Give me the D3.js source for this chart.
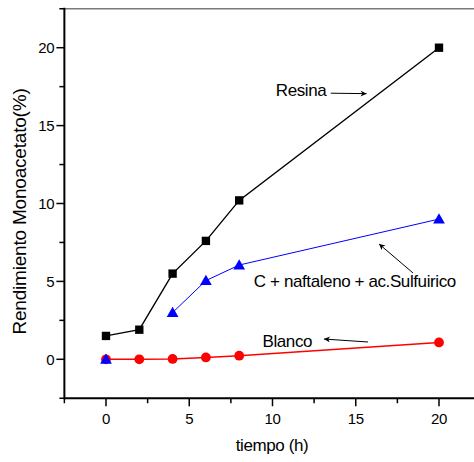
<!DOCTYPE html>
<html>
<head>
<meta charset="utf-8">
<script src="https://cdn.jsdelivr.net/npm/d3@7"></script>
<style>
  html, body { margin: 0; padding: 0; background: #fff; }
  svg { display: block; font-family: 'Liberation Sans', Arial, sans-serif; }
</style>
</head>
<body>
<svg class="canvas" width="474" height="462"></svg>
<script>
'use strict';

// Data
const tiempo = [0, 2, 4, 6, 8, 20];
const resina = [1.5, 1.9, 5.5, 7.6, 10.2, 20.0];
const naftaleno = [0, null, 3.0, 5.05, 6.05, 9.0];
const blanco = [0, 0, 0.02, 0.12, 0.23, 1.08];
const xTicks = [0, 5, 10, 15, 20];
const yTicks = [0, 5, 10, 15, 20];

// drawn in this order: red first so the blue triangle at t=0 sits on top
const series = [
  { name: 'Resina', values: resina, color: '#000000', width: 1.4, marker: 'square' },
  { name: 'Blanco', values: blanco, color: '#ff0000', width: 1.4, marker: 'circle' },
  { name: 'C + naftaleno + ac.Sulfuirico', values: naftaleno, color: '#0000ff', width: 1, marker: 'triangle' }
];

// Annotation labels, placed in data units
const notes = [
  { text: 'Resina', tx: 10.2, ty: 16.9, from: [13.5, 17.08], to: [15.65, 17.05] },
  { text: 'C + naftaleno + ac.Sulfuirico', tx: 8.88, ty: 4.66, from: [18.44, 5.54], to: [16.4, 7.4] },
  { text: 'Blanco', tx: 9.4, ty: 0.8, from: [15.74, 1.11], to: [13.09, 1.3] }
];

const svg = d3.select('.canvas');
const x = d3.scaleLinear().domain([0, 20]).range([106, 439]);
const y = d3.scaleLinear().domain([0, 20]).range([359.3, 47.7]);
const xLo = -2.5, xHi = 22.5, yLo = -2.5, yHi = 22.5;

// frame
svg.append('line')
  .attr('x1', x(xLo)).attr('x2', x(xHi))
  .attr('y1', y(yHi)).attr('y2', y(yHi))
  .attr('stroke', '#7a7a7a').attr('stroke-width', 1.5);

const minor = d3.range(-2.5, 23, 5);

// bottom axis
const gx = svg.append('g').attr('transform', `translate(0,${y(yLo)})`);
gx.append('line').attr('x1', x(xLo)).attr('x2', x(xHi)).attr('stroke', '#000').attr('stroke-width', 2);
gx.selectAll('.maj').data(xTicks).enter().append('line')
  .attr('x1', d => x(d)).attr('x2', d => x(d)).attr('y1', 0).attr('y2', 8)
  .attr('stroke', '#000').attr('stroke-width', 1.5);
gx.selectAll('.min').data(minor).enter().append('line')
  .attr('x1', d => x(d)).attr('x2', d => x(d)).attr('y1', 0).attr('y2', 5)
  .attr('stroke', '#000').attr('stroke-width', 1.5);
gx.selectAll('text').data(xTicks).enter().append('text')
  .attr('x', d => x(d)).attr('y', 25.5)
  .attr('text-anchor', 'middle').attr('font-size', 15).attr('letter-spacing', -0.3)
  .text(d => d);

// left axis
const gy = svg.append('g').attr('transform', `translate(${x(xLo)},0)`);
gy.append('line').attr('y1', y(yHi) - 1).attr('y2', y(yLo) + 1).attr('stroke', '#000').attr('stroke-width', 2);
gy.selectAll('.maj').data(yTicks).enter().append('line')
  .attr('y1', d => y(d)).attr('y2', d => y(d)).attr('x1', 0).attr('x2', -8)
  .attr('stroke', '#000').attr('stroke-width', 1.5);
gy.selectAll('.min').data(minor).enter().append('line')
  .attr('y1', d => y(d)).attr('y2', d => y(d)).attr('x1', 0).attr('x2', -5)
  .attr('stroke', '#000').attr('stroke-width', 1.5);
gy.selectAll('text').data(yTicks).enter().append('text')
  .attr('x', -10).attr('y', d => y(d) + 5.4)
  .attr('text-anchor', 'end').attr('font-size', 15).attr('letter-spacing', -0.3)
  .text(d => d);

// axis titles
svg.append('text')
  .attr('transform', `translate(26,${(y(yLo) + y(yHi)) / 2 + 8}) rotate(-90)`)
  .attr('text-anchor', 'middle').attr('font-size', 19).attr('letter-spacing', -0.2)
  .text('Rendimiento Monoacetato(%)');
svg.append('text')
  .attr('x', 272).attr('y', 451.4)
  .attr('text-anchor', 'middle').attr('font-size', 17).attr('letter-spacing', -0.4)
  .text('tiempo (h)');

// series
const line = d3.line()
  .defined(d => d[1] != null)
  .x(d => x(d[0])).y(d => y(d[1]));
const sym = { square: d3.symbolSquare, triangle: d3.symbolTriangle, circle: d3.symbolCircle };
const symSize = { square: 70, triangle: 60, circle: 75 };

series.forEach(s => {
  const pts = tiempo.map((t, i) => [t, s.values[i]]);
  svg.append('path').datum(pts)
    .attr('d', line).attr('fill', 'none')
    .attr('stroke', s.color).attr('stroke-width', s.width);
  svg.selectAll(null).data(pts.filter(p => p[1] != null)).enter().append('path')
    .attr('transform', d => `translate(${x(d[0])},${y(d[1]) + (s.marker === 'triangle' ? 1 : 0)})`)
    .attr('d', d3.symbol(sym[s.marker], symSize[s.marker]))
    .attr('fill', s.color);
});

// annotations
const defs = svg.append('defs');
defs.append('marker').attr('id', 'arrow')
  .attr('viewBox', '0 0 10 10').attr('refX', 10).attr('refY', 5)
  .attr('markerWidth', 9).attr('markerHeight', 6).attr('markerUnits', 'userSpaceOnUse')
  .attr('orient', 'auto')
  .append('path').attr('d', 'M0,0 L10,5 L0,10 L3,5 Z').attr('fill', '#000');

notes.forEach(n => {
  svg.append('text')
    .attr('x', x(n.tx)).attr('y', y(n.ty))
    .attr('font-size', 17).attr('letter-spacing', -0.4)
    .text(n.text);
  svg.append('line')
    .attr('x1', x(n.from[0])).attr('y1', y(n.from[1]))
    .attr('x2', x(n.to[0])).attr('y2', y(n.to[1]))
    .attr('stroke', '#000').attr('stroke-width', 1)
    .attr('marker-end', 'url(#arrow)');
});
</script>
</body>
</html>
